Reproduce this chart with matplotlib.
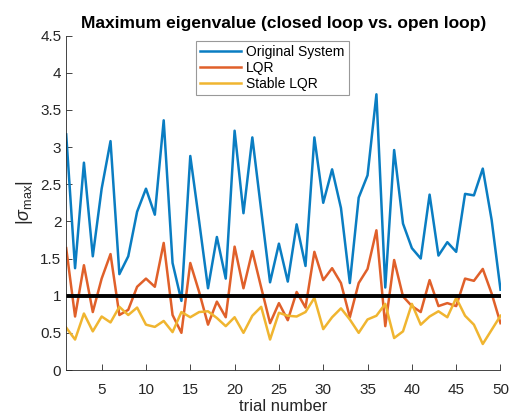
import matplotlib
matplotlib.use("Agg")
import matplotlib.pyplot as plt
import numpy as np

plt.rcParams['font.family'] = ['Liberation Sans', 'DejaVu Sans']
plt.rcParams['mathtext.fontset'] = 'custom'
plt.rcParams['mathtext.rm'] = 'Liberation Sans'
plt.rcParams['mathtext.it'] = 'Liberation Sans:italic'

trials = list(range(1, 51))
original = [3.17, 1.37, 2.79, 1.53, 2.44, 3.08, 1.29, 1.53, 2.13, 2.44,
            2.09, 3.36, 1.44, 0.93, 2.88, 2.00, 1.10, 1.79, 1.23, 3.22,
            2.11, 3.13, 2.15, 1.18, 1.70, 1.19, 1.96, 1.40, 3.13, 2.25,
            2.70, 2.18, 1.17, 2.32, 2.62, 3.71, 1.11, 2.96, 1.97, 1.64,
            1.50, 2.36, 1.54, 1.72, 1.59, 2.37, 2.35, 2.71, 2.02, 1.08]
lqr = [1.64, 0.72, 1.41, 0.78, 1.23, 1.56, 0.74, 0.81, 1.12, 1.23,
       1.12, 1.71, 0.74, 0.50, 1.44, 1.05, 0.61, 0.92, 0.71, 1.66,
       1.10, 1.60, 1.11, 0.63, 0.90, 0.67, 1.05, 0.84, 1.59, 1.21,
       1.37, 1.17, 0.71, 1.17, 1.36, 1.88, 0.59, 1.48, 0.99, 0.86,
       0.78, 1.21, 0.86, 0.90, 0.86, 1.23, 1.20, 1.36, 1.03, 0.63]
stable_lqr = [0.57, 0.41, 0.76, 0.52, 0.72, 0.64, 0.85, 0.74, 0.84, 0.61,
              0.58, 0.66, 0.51, 0.78, 0.71, 0.78, 0.79, 0.70, 0.59, 0.71,
              0.50, 0.73, 0.85, 0.41, 0.77, 0.73, 0.72, 0.78, 0.97, 0.55,
              0.71, 0.83, 0.68, 0.50, 0.68, 0.73, 0.89, 0.43, 0.52, 0.89,
              0.61, 0.72, 0.79, 0.71, 0.97, 0.73, 0.61, 0.35, 0.54, 0.73]
threshold = 1.0
labels = ['Original System', 'LQR', 'Stable LQR']
colors = ['#0A7DC2', '#E0602A', '#F0B530']

fig = plt.figure(figsize=(5.10, 4.18), dpi=100)
ax = fig.add_axes([66.2/510, (418-370)/418, (500.5-66.2)/510, (370-35.6)/418])

for series, lab, col in zip([original, lqr, stable_lqr], labels, colors):
    ax.plot(trials, series, color=col, lw=1.8, label=lab)
ax.axhline(threshold, color='black', lw=2.8)

ax.set_xlim(1, 50)
ax.set_ylim(0, 4.5)
ax.set_xticks(range(5, 51, 5))
ax.set_yticks(np.arange(0, 4.51, 0.5))
ax.set_yticklabels(['0', '0.5', '1', '1.5', '2', '2.5', '3', '3.5', '4', '4.5'])

gray = '#262626'
for s in ['top', 'right']:
    ax.spines[s].set_visible(False)
for s in ['left', 'bottom']:
    ax.spines[s].set_color(gray)
    ax.spines[s].set_linewidth(0.6)
ax.tick_params(direction='in', length=4, width=0.6, colors=gray, labelsize=11)
ax.tick_params(axis='x', pad=9)

ax.set_xlabel('trial number', fontsize=12, color=gray, labelpad=1.5)
ax.set_ylabel(r'$|\sigma_{\rm max}|$', fontsize=13, color=gray, labelpad=4)
ax.set_title('Maximum eigenvalue (closed loop vs. open loop)', fontsize=12.5,
             fontweight='bold', pad=5.5)

leg = ax.legend(loc='upper left', bbox_to_anchor=(0.299, 0.984), borderaxespad=0,
                fancybox=False, edgecolor='#808080', fontsize=10,
                handlelength=2.9, labelspacing=0.15, borderpad=0.3,
                handletextpad=0.4)
leg.get_frame().set_linewidth(0.8)

fig.savefig('out.png', dpi=100)
